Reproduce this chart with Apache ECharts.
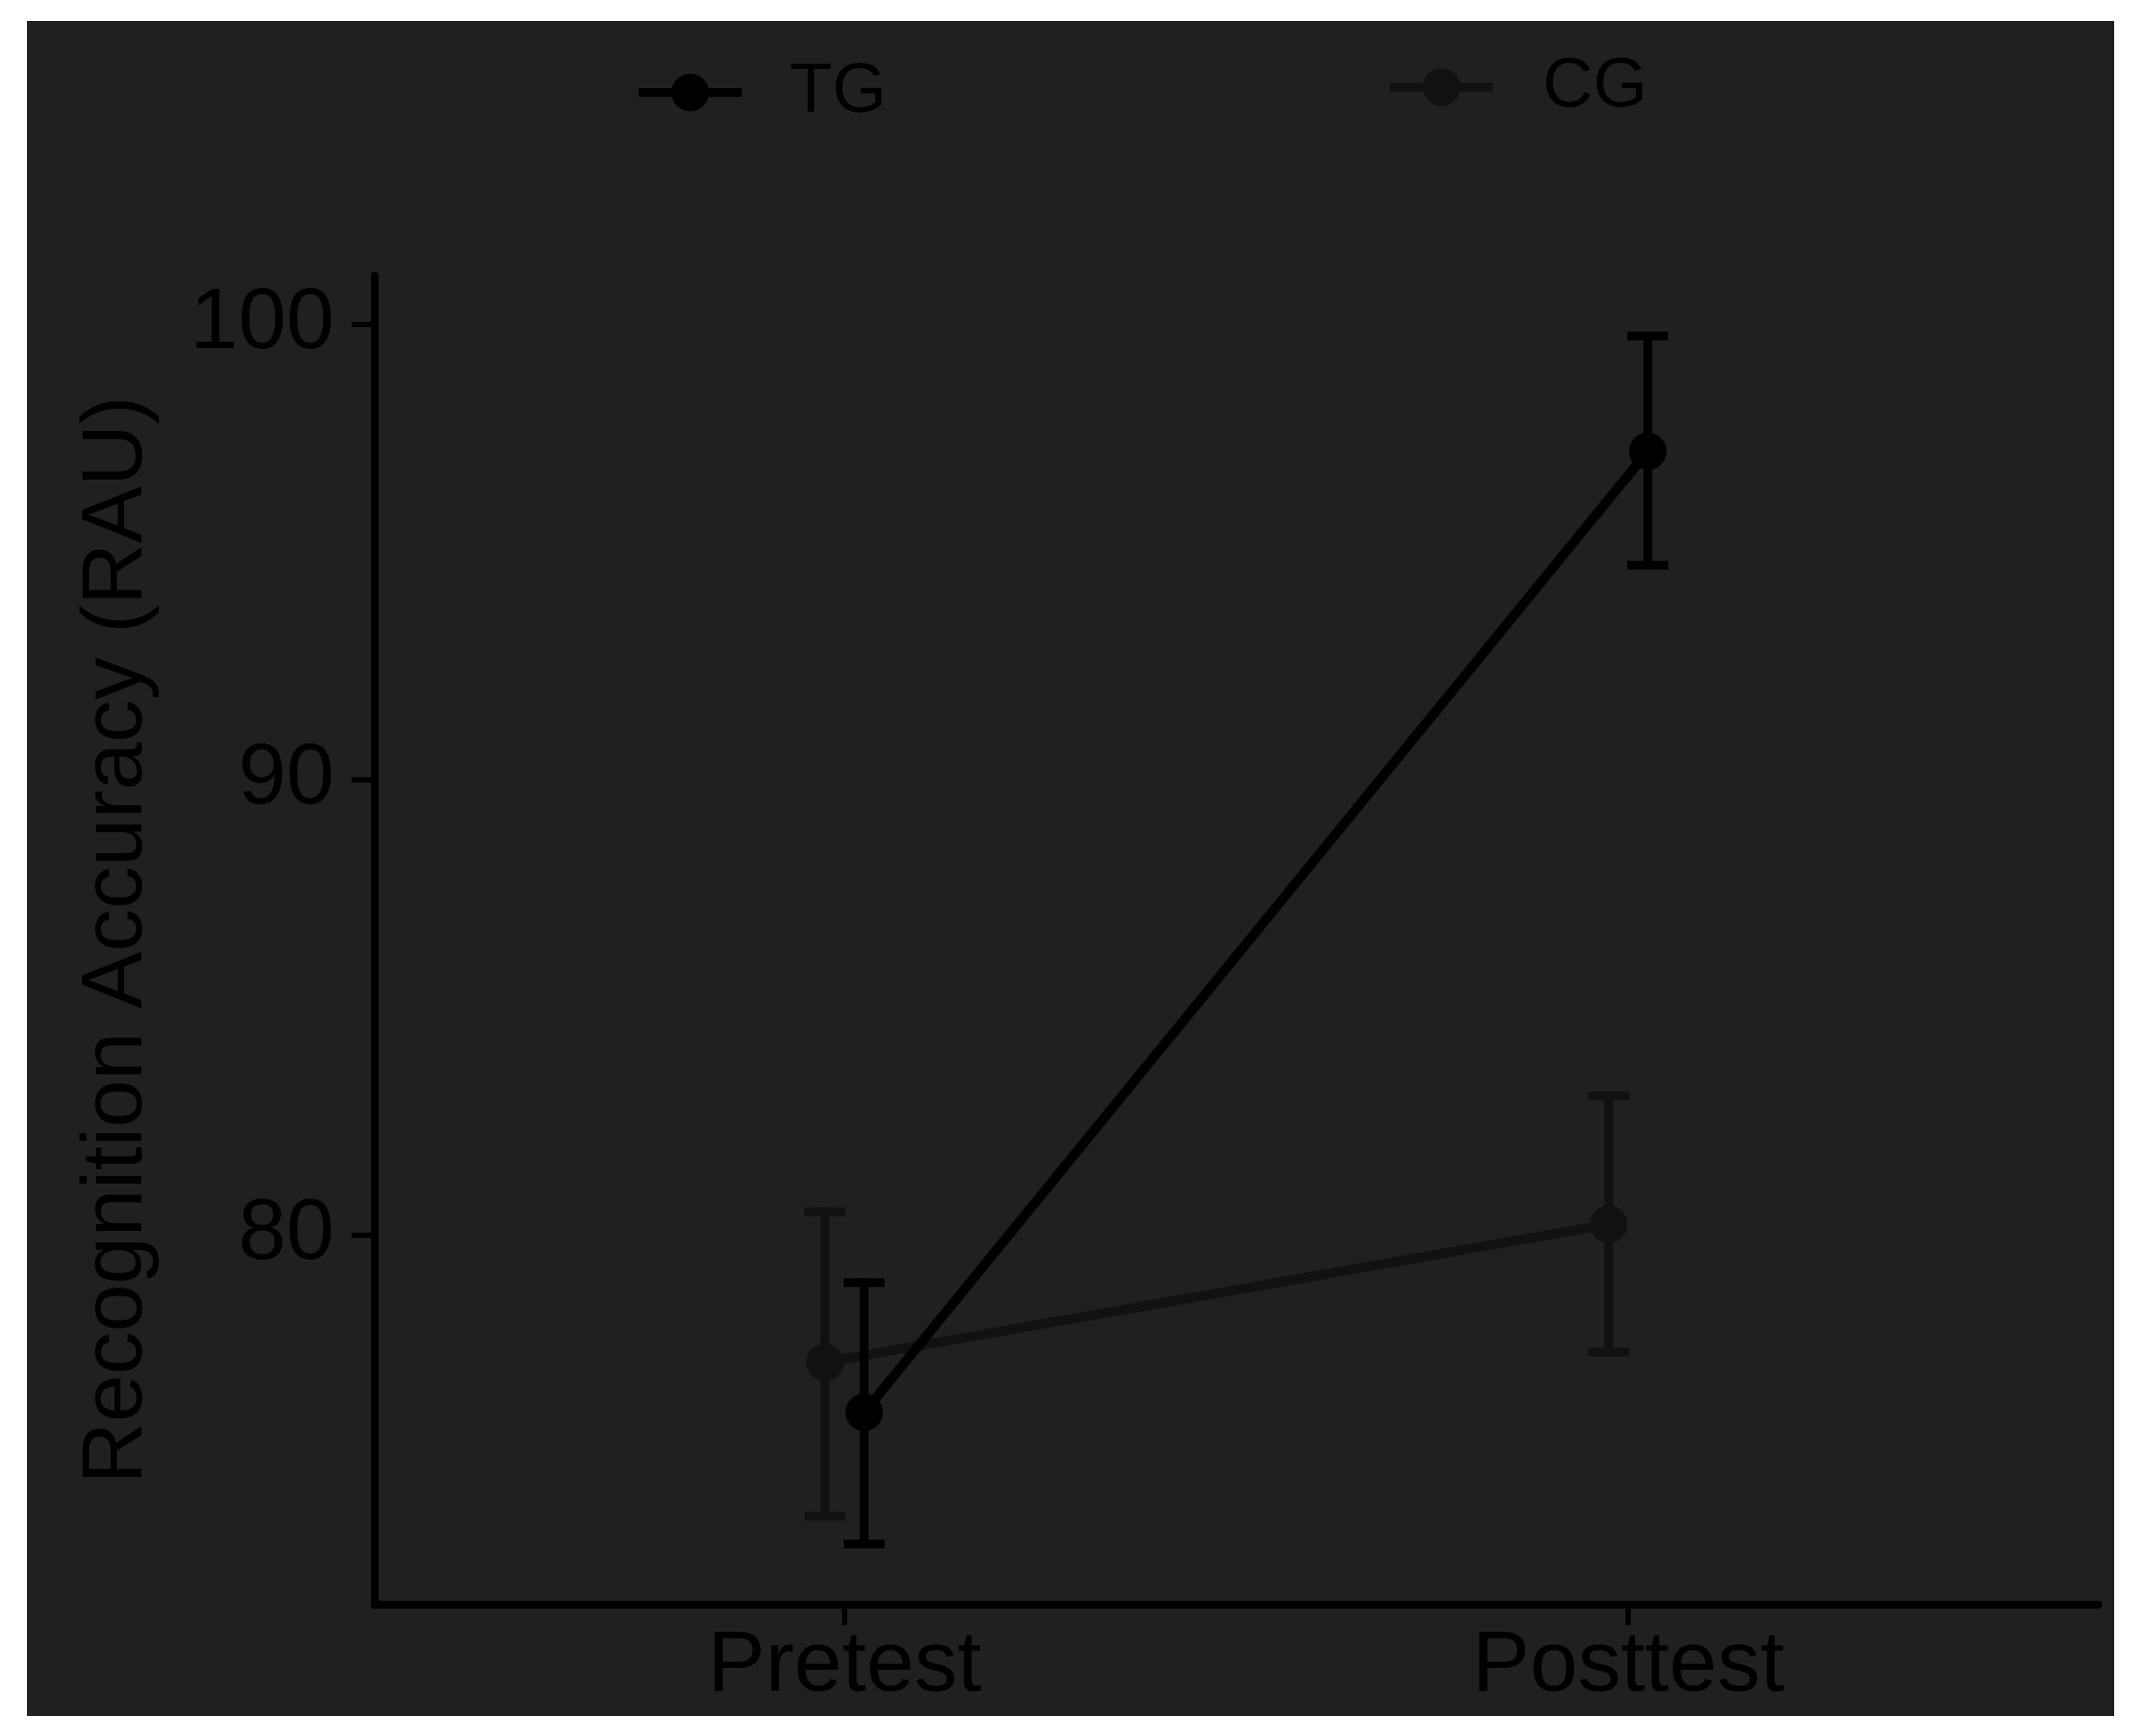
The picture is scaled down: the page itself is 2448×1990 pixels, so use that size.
<!DOCTYPE html>
<html>
<head>
<meta charset="utf-8">
<script src="https://cdn.jsdelivr.net/npm/echarts@6/dist/echarts.min.js"></script>
<style>
  html, body { margin: 0; padding: 0; background: #ffffff; width: 2448px; height: 1990px; overflow: hidden; }
  #chart { position: absolute; left: 31px; top: 24px; width: 2392px; height: 1943px; }
</style>
</head>
<body>
<div id="chart"></div>
<script>
// ---- data ----
const categories = ['Pretest', 'Posttest'];
const groupNames = ['TG', 'CG'];
const tgMean = [76.11, 97.22];
const tgLow  = [73.22, 94.72];
const tgHigh = [78.96, 99.75];
const cgMean = [77.21, 80.24];
const cgLow  = [73.83, 77.43];
const cgHigh = [80.51, 83.06];
const yTickValues = [80, 90, 100];
const yAxisTitle = 'Recognition Accuracy (RAU)';

// ---- styles ----
const FONT = 'Liberation Sans, Arial, Helvetica, sans-serif';
const TG_COLOR = '#000000';
const CG_COLOR = '#111111';
const DODGE = 0.025;
const LINE_W = 11;
const BAR_W = 10;
const CAP_HALF = 23.5;

const allLow = tgLow.concat(cgLow);
const allHigh = tgHigh.concat(cgHigh);
const lo = Math.min.apply(null, allLow);
const hi = Math.max.apply(null, allHigh);
const pad = (hi - lo) * 0.05;

function pts(means, offset) {
  return means.map((m, i) => [i + 1 + offset, m]);
}
function bars(lows, highs, offset) {
  return lows.map((l, i) => [i + 1 + offset, l, highs[i]]);
}

function errRender(color) {
  return function (params, api) {
    const x = api.value(0);
    const pLo = api.coord([x, api.value(1)]);
    const pHi = api.coord([x, api.value(2)]);
    const st = { stroke: color, lineWidth: BAR_W, lineCap: 'butt' };
    return {
      type: 'group',
      children: [
        { type: 'line', shape: { x1: pLo[0], y1: pLo[1] + BAR_W / 2, x2: pHi[0], y2: pHi[1] - BAR_W / 2 }, style: st },
        { type: 'line', shape: { x1: pLo[0] - CAP_HALF, y1: pLo[1], x2: pLo[0] + CAP_HALF, y2: pLo[1] }, style: st },
        { type: 'line', shape: { x1: pHi[0] - CAP_HALF, y1: pHi[1], x2: pHi[0] + CAP_HALF, y2: pHi[1] }, style: st }
      ]
    };
  };
}

const chart = echarts.init(document.getElementById('chart'), null, { renderer: 'canvas' });
chart.setOption({
  animation: false,
  backgroundColor: '#202020',
  textStyle: { fontFamily: FONT },
  legend: [
    {
      data: ['TG'], left: 691, top: 37, itemWidth: 118, itemHeight: 54,
      lineStyle: { width: 10 },
      textStyle: { fontFamily: FONT, fontSize: 80, color: '#000', padding: [0, 0, 0, 50] }
    },
    {
      data: ['CG'], left: 1552, top: 31, itemWidth: 118, itemHeight: 54,
      lineStyle: { width: 10 },
      textStyle: { fontFamily: FONT, fontSize: 80, color: '#000', padding: [0, 0, 0, 52] }
    }
  ],
  grid: { left: 398, right: 18, top: 292, bottom: 128, containLabel: false },
  xAxis: {
    type: 'value',
    min: 0.4, max: 2.6,
    splitLine: { show: false },
    axisLine: { show: true, lineStyle: { color: '#000', width: 9 } },
    axisTick: { show: true, customValues: [1, 2], length: 24, lineStyle: { color: '#000', width: 6 } },
    axisLabel: {
      customValues: [1, 2],
      formatter: v => categories[Math.round(v) - 1],
      fontFamily: FONT, fontSize: 99, color: '#000', margin: 22
    }
  },
  yAxis: {
    type: 'value',
    min: +(lo - pad).toFixed(3), max: +(hi + pad).toFixed(3),
    splitLine: { show: false },
    axisLine: { show: true, lineStyle: { color: '#000', width: 9 } },
    axisTick: { show: true, customValues: yTickValues, length: 26, lineStyle: { color: '#000', width: 6 } },
    axisLabel: {
      customValues: yTickValues,
      fontFamily: FONT, fontSize: 99, color: '#000', margin: 46
    },
    name: yAxisTitle,
    nameLocation: 'middle',
    nameGap: 245,
    nameTextStyle: { fontFamily: FONT, fontSize: 98, color: '#000' }
  },
  series: [
    {
      name: 'CG', type: 'line', data: pts(cgMean, -DODGE),
      symbol: 'circle', symbolSize: 43,
      lineStyle: { color: CG_COLOR, width: LINE_W },
      itemStyle: { color: CG_COLOR }, z: 2
    },
    {
      name: 'TG', type: 'line', data: pts(tgMean, DODGE),
      symbol: 'circle', symbolSize: 43,
      lineStyle: { color: TG_COLOR, width: LINE_W },
      itemStyle: { color: TG_COLOR }, z: 4
    },
    {
      name: 'CG error', type: 'custom', renderItem: errRender(CG_COLOR),
      itemStyle: { color: CG_COLOR },
      data: bars(cgLow, cgHigh, -DODGE), z: 1, silent: true
    },
    {
      name: 'TG error', type: 'custom', renderItem: errRender(TG_COLOR),
      itemStyle: { color: TG_COLOR },
      data: bars(tgLow, tgHigh, DODGE), z: 3, silent: true
    }
  ]
});
</script>
</body>
</html>
